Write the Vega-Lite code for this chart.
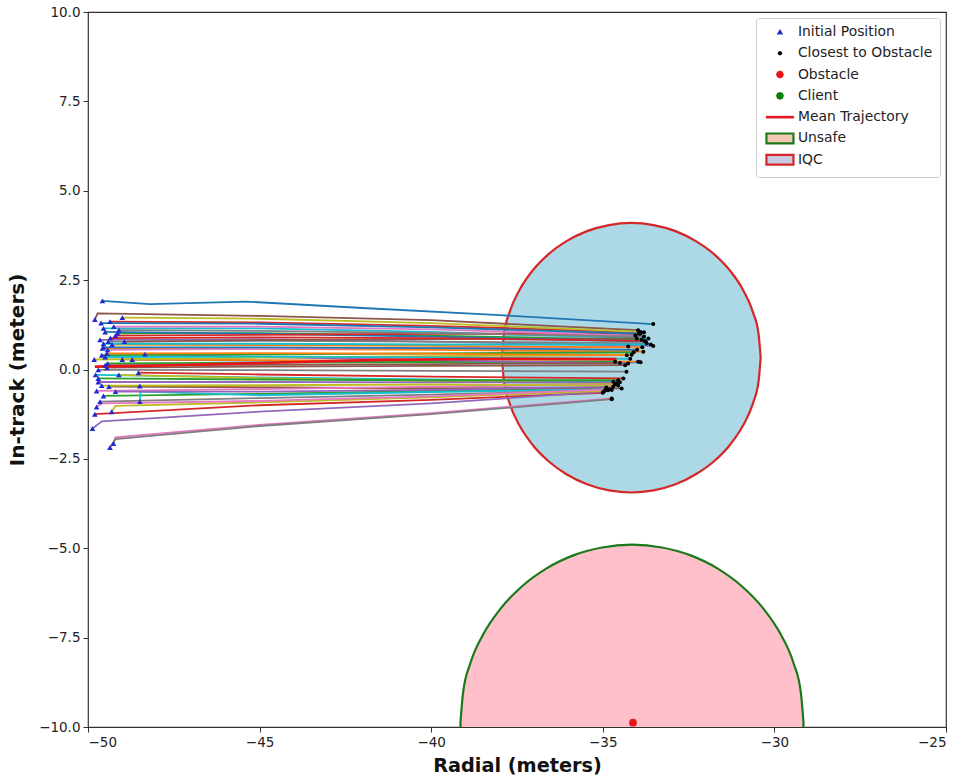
{
  "$schema": "https://vega.github.io/schema/vega-lite/v6.json",
  "width": 858,
  "height": 715,
  "autosize": "none",
  "padding": {"left": 88, "top": 12, "right": 17, "bottom": 52},
  "background": "white",
  "datasets": {
    "circles": [
      {"c":"IQC","x":-30.40,"y":0.33,"y2":0.33},
      {"c":"IQC","x":-30.46,"y":0.98,"y2":-0.32},
      {"c":"IQC","x":-30.63,"y":1.62,"y2":-0.96},
      {"c":"IQC","x":-30.91,"y":2.22,"y2":-1.56},
      {"c":"IQC","x":-31.28,"y":2.75,"y2":-2.09},
      {"c":"IQC","x":-31.75,"y":3.22,"y2":-2.56},
      {"c":"IQC","x":-32.29,"y":3.59,"y2":-2.93},
      {"c":"IQC","x":-32.88,"y":3.87,"y2":-3.21},
      {"c":"IQC","x":-33.52,"y":4.04,"y2":-3.38},
      {"c":"IQC","x":-34.17,"y":4.10,"y2":-3.44},
      {"c":"IQC","x":-34.82,"y":4.04,"y2":-3.38},
      {"c":"IQC","x":-35.46,"y":3.87,"y2":-3.21},
      {"c":"IQC","x":-36.06,"y":3.59,"y2":-2.93},
      {"c":"IQC","x":-36.59,"y":3.22,"y2":-2.56},
      {"c":"IQC","x":-37.06,"y":2.75,"y2":-2.09},
      {"c":"IQC","x":-37.43,"y":2.22,"y2":-1.56},
      {"c":"IQC","x":-37.71,"y":1.62,"y2":-0.96},
      {"c":"IQC","x":-37.88,"y":0.98,"y2":-0.32},
      {"c":"IQC","x":-37.94,"y":0.33,"y2":0.33},
      {"c":"Unsafe","x":-29.15,"y":-9.9,"y2":-9.9},
      {"c":"Unsafe","x":-29.23,"y":-9.03,"y2":-10.77},
      {"c":"Unsafe","x":-29.45,"y":-8.19,"y2":-11.61},
      {"c":"Unsafe","x":-29.82,"y":-7.40,"y2":-12.40},
      {"c":"Unsafe","x":-30.32,"y":-6.69,"y2":-13.11},
      {"c":"Unsafe","x":-30.94,"y":-6.07,"y2":-13.73},
      {"c":"Unsafe","x":-31.65,"y":-5.57,"y2":-14.23},
      {"c":"Unsafe","x":-32.44,"y":-5.20,"y2":-14.60},
      {"c":"Unsafe","x":-33.28,"y":-4.98,"y2":-14.82},
      {"c":"Unsafe","x":-34.15,"y":-4.90,"y2":-14.90},
      {"c":"Unsafe","x":-35.02,"y":-4.98,"y2":-14.82},
      {"c":"Unsafe","x":-35.86,"y":-5.20,"y2":-14.60},
      {"c":"Unsafe","x":-36.65,"y":-5.57,"y2":-14.23},
      {"c":"Unsafe","x":-37.36,"y":-6.07,"y2":-13.73},
      {"c":"Unsafe","x":-37.98,"y":-6.69,"y2":-13.11},
      {"c":"Unsafe","x":-38.48,"y":-7.40,"y2":-12.40},
      {"c":"Unsafe","x":-38.85,"y":-8.19,"y2":-11.61},
      {"c":"Unsafe","x":-39.07,"y":-9.03,"y2":-10.77},
      {"c":"Unsafe","x":-39.15,"y":-9.9,"y2":-9.9}
    ],
    "traj": [
      {"t":0,"s":0,"x":-49.58,"y":1.92},{"t":0,"s":1,"x":-48.2,"y":1.83},{"t":0,"s":2,"x":-45.4,"y":1.90},{"t":0,"s":3,"x":-42.0,"y":1.72},{"t":0,"s":4,"x":-38.0,"y":1.52},{"t":0,"s":5,"x":-33.53,"y":1.27},
      {"t":1,"s":0,"x":-49.58,"y":0.59},{"t":1,"s":1,"x":-45,"y":0.58},{"t":1,"s":2,"x":-40,"y":0.55},{"t":1,"s":3,"x":-33.82,"y":0.50},
      {"t":2,"s":0,"x":-49.14,"y":1.01},{"t":2,"s":1,"x":-45,"y":1.02},{"t":2,"s":2,"x":-40,"y":0.95},{"t":2,"s":3,"x":-33.87,"y":0.83},
      {"t":3,"s":0,"x":-49.36,"y":1.34},{"t":3,"s":1,"x":-45,"y":1.32},{"t":3,"s":2,"x":-40,"y":1.22},{"t":3,"s":3,"x":-33.80,"y":1.04},
      {"t":4,"s":0,"x":-49.65,"y":0.83},{"t":4,"s":1,"x":-45,"y":0.85},{"t":4,"s":2,"x":-40,"y":0.78},{"t":4,"s":3,"x":-33.53,"y":0.66},
      {"t":5,"s":0,"x":-49.80,"y":1.40},{"t":5,"s":1,"x":-49.72,"y":1.57},{"t":5,"s":2,"x":-45,"y":1.50},{"t":5,"s":3,"x":-40,"y":1.38},{"t":5,"s":4,"x":-33.97,"y":1.10},
      {"t":6,"s":0,"x":-49.43,"y":0.55},{"t":6,"s":1,"x":-45,"y":0.58},{"t":6,"s":2,"x":-40,"y":0.60},{"t":6,"s":3,"x":-34.26,"y":0.64},
      {"t":7,"s":0,"x":-49.41,"y":0.78},{"t":7,"s":1,"x":-45,"y":0.80},{"t":7,"s":2,"x":-40,"y":0.78},{"t":7,"s":3,"x":-33.72,"y":0.73},
      {"t":8,"s":0,"x":-49.0,"y":1.45},{"t":8,"s":1,"x":-45,"y":1.42},{"t":8,"s":2,"x":-40,"y":1.30},{"t":8,"s":3,"x":-33.9,"y":1.05},
      {"t":9,"s":0,"x":-49.55,"y":1.15},{"t":9,"s":1,"x":-45,"y":1.15},{"t":9,"s":2,"x":-40,"y":1.05},{"t":9,"s":3,"x":-33.67,"y":0.87},
      {"t":10,"s":0,"x":-48.71,"y":0.28},{"t":10,"s":1,"x":-45,"y":0.25},{"t":10,"s":2,"x":-40,"y":0.22},{"t":10,"s":3,"x":-33.9,"y":0.20},
      {"t":11,"s":0,"x":-49.0,"y":0.28},{"t":11,"s":1,"x":-45,"y":0.26},{"t":11,"s":2,"x":-40,"y":0.24},{"t":11,"s":3,"x":-33.97,"y":0.22},
      {"t":12,"s":0,"x":-49.43,"y":0.17},{"t":12,"s":1,"x":-45,"y":0.19},{"t":12,"s":2,"x":-40,"y":0.21},{"t":12,"s":3,"x":-34.64,"y":0.22},
      {"t":13,"s":0,"x":-48.53,"y":-0.09},{"t":13,"s":1,"x":-45,"y":-0.14},{"t":13,"s":2,"x":-40,"y":-0.20},{"t":13,"s":3,"x":-34.40,"y":-0.25},
      {"t":14,"s":0,"x":-48.34,"y":0.43},{"t":14,"s":1,"x":-45,"y":0.35},{"t":14,"s":2,"x":-40,"y":0.26},{"t":14,"s":3,"x":-34.26,"y":0.17},
      {"t":15,"s":0,"x":-48.94,"y":0.78},{"t":15,"s":1,"x":-45,"y":0.82},{"t":15,"s":2,"x":-40,"y":0.85},{"t":15,"s":3,"x":-34.01,"y":0.87},
      {"t":16,"s":0,"x":-49.26,"y":-2.07},{"t":16,"s":1,"x":-49.2,"y":-1.90},{"t":16,"s":2,"x":-45,"y":-1.55},{"t":16,"s":3,"x":-40,"y":-1.22},{"t":16,"s":4,"x":-34.74,"y":-0.81},
      {"t":17,"s":0,"x":-49.70,"y":-0.01},{"t":17,"s":1,"x":-45,"y":-0.02},{"t":17,"s":2,"x":-40,"y":-0.04},{"t":17,"s":3,"x":-34.31,"y":-0.06},
      {"t":18,"s":0,"x":-49.82,"y":0.28},{"t":18,"s":1,"x":-45,"y":0.33},{"t":18,"s":2,"x":-40,"y":0.37},{"t":18,"s":3,"x":-34.16,"y":0.41},
      {"t":19,"s":0,"x":-49.78,"y":-0.15},{"t":19,"s":1,"x":-45,"y":-0.22},{"t":19,"s":2,"x":-40,"y":-0.28},{"t":19,"s":3,"x":-34.69,"y":-0.34},
      {"t":20,"s":0,"x":-49.5,"y":1.05},{"t":20,"s":1,"x":-45,"y":1.00},{"t":20,"s":2,"x":-40,"y":0.92},{"t":20,"s":3,"x":-33.75,"y":0.78},
      {"t":21,"s":0,"x":-48.49,"y":-0.46},{"t":21,"s":1,"x":-45,"y":-0.50},{"t":21,"s":2,"x":-40,"y":-0.54},{"t":21,"s":3,"x":-34.74,"y":-0.57},
      {"t":22,"s":0,"x":-49.55,"y":-0.74},{"t":22,"s":1,"x":-45,"y":-0.68},{"t":22,"s":2,"x":-40,"y":-0.60},{"t":22,"s":3,"x":-34.90,"y":-0.50},
      {"t":23,"s":0,"x":-49.80,"y":-1.25},{"t":23,"s":1,"x":-45,"y":-1.00},{"t":23,"s":2,"x":-40,"y":-0.85},{"t":23,"s":3,"x":-35.0,"y":-0.65},
      {"t":24,"s":0,"x":-49.87,"y":-1.65},{"t":24,"s":1,"x":-49.6,"y":-1.45},{"t":24,"s":2,"x":-45,"y":-1.18},{"t":24,"s":3,"x":-40,"y":-0.95},{"t":24,"s":4,"x":-34.98,"y":-0.62},
      {"t":25,"s":0,"x":-49.39,"y":-0.48},{"t":25,"s":1,"x":-45,"y":-0.50},{"t":25,"s":2,"x":-40,"y":-0.52},{"t":25,"s":3,"x":-34.45,"y":-0.53},
      {"t":26,"s":0,"x":-49.75,"y":-0.60},{"t":26,"s":1,"x":-45,"y":-0.55},{"t":26,"s":2,"x":-40,"y":-0.48},{"t":26,"s":3,"x":-34.65,"y":-0.42},
      {"t":27,"s":0,"x":-49.36,"y":-2.18},{"t":27,"s":1,"x":-49.2,"y":-1.95},{"t":27,"s":2,"x":-45,"y":-1.58},{"t":27,"s":3,"x":-40,"y":-1.25},{"t":27,"s":4,"x":-34.74,"y":-0.83},
      {"t":28,"s":0,"x":-49.10,"y":-0.15},{"t":28,"s":1,"x":-45,"y":-0.24},{"t":28,"s":2,"x":-40,"y":-0.32},{"t":28,"s":3,"x":-34.60,"y":-0.39},
      {"t":29,"s":0,"x":-48.49,"y":-0.90},{"t":29,"s":1,"x":-48.47,"y":-0.62},{"t":29,"s":2,"x":-45,"y":-0.72},{"t":29,"s":3,"x":-40,"y":-0.63},{"t":29,"s":4,"x":-34.80,"y":-0.55},
      {"t":30,"s":0,"x":-49.55,"y":0.62},{"t":30,"s":1,"x":-45,"y":0.62},{"t":30,"s":2,"x":-40,"y":0.60},{"t":30,"s":3,"x":-34.0,"y":0.55},
      {"t":31,"s":0,"x":-49.3,"y":0.70},{"t":31,"s":1,"x":-45,"y":0.68},{"t":31,"s":2,"x":-40,"y":0.66},{"t":31,"s":3,"x":-33.85,"y":0.62},
      {"t":32,"s":0,"x":-49.6,"y":0.40},{"t":32,"s":1,"x":-45,"y":0.42},{"t":32,"s":2,"x":-40,"y":0.45},{"t":32,"s":3,"x":-34.1,"y":0.48},
      {"t":33,"s":0,"x":-49.2,"y":0.95},{"t":33,"s":1,"x":-45,"y":0.97},{"t":33,"s":2,"x":-40,"y":1.00},{"t":33,"s":3,"x":-33.95,"y":1.00},
      {"t":34,"s":0,"x":-49.7,"y":-0.35},{"t":34,"s":1,"x":-45,"y":-0.35},{"t":34,"s":2,"x":-40,"y":-0.36},{"t":34,"s":3,"x":-34.5,"y":-0.36},
      {"t":35,"s":0,"x":-49.45,"y":0.05},{"t":35,"s":1,"x":-45,"y":0.08},{"t":35,"s":2,"x":-40,"y":0.10},{"t":35,"s":3,"x":-34.35,"y":0.12},
      {"t":36,"s":0,"x":-49.25,"y":1.20},{"t":36,"s":1,"x":-45,"y":1.20},{"t":36,"s":2,"x":-40,"y":1.12},{"t":36,"s":3,"x":-34.05,"y":0.95},
      {"t":37,"s":0,"x":-49.65,"y":-0.90},{"t":37,"s":1,"x":-45,"y":-0.80},{"t":37,"s":2,"x":-40,"y":-0.70},{"t":37,"s":3,"x":-34.85,"y":-0.58},
      {"t":38,"s":0,"x":-49.31,"y":-1.18},{"t":38,"s":1,"x":-49.2,"y":-1.02},{"t":38,"s":2,"x":-45,"y":-0.92},{"t":38,"s":3,"x":-40,"y":-0.78},{"t":38,"s":4,"x":-34.95,"y":-0.60},
      {"t":39,"s":0,"x":-49.5,"y":0.35},{"t":39,"s":1,"x":-45,"y":0.36},{"t":39,"s":2,"x":-40,"y":0.34},{"t":39,"s":3,"x":-34.2,"y":0.30},
      {"t":40,"s":0,"x":-49.62,"y":1.30},{"t":40,"s":1,"x":-45,"y":1.28},{"t":40,"s":2,"x":-40,"y":1.18},{"t":40,"s":3,"x":-33.9,"y":1.00},
      {"t":41,"s":0,"x":-49.45,"y":0.45},{"t":41,"s":1,"x":-45,"y":0.46},{"t":41,"s":2,"x":-40,"y":0.44},{"t":41,"s":3,"x":-34.3,"y":0.40},
      {"t":42,"s":0,"x":-49.7,"y":-0.25},{"t":42,"s":1,"x":-45,"y":-0.28},{"t":42,"s":2,"x":-40,"y":-0.30},{"t":42,"s":3,"x":-34.55,"y":-0.30},
      {"t":43,"s":0,"x":-49.35,"y":0.88},{"t":43,"s":1,"x":-45,"y":0.90},{"t":43,"s":2,"x":-40,"y":0.88},{"t":43,"s":3,"x":-33.78,"y":0.80},
      {"t":44,"s":0,"x":-49.2,"y":-0.62},{"t":44,"s":1,"x":-45,"y":-0.62},{"t":44,"s":2,"x":-40,"y":-0.57},{"t":44,"s":3,"x":-34.7,"y":-0.48},
      {"t":45,"s":0,"x":-49.5,"y":0.12},{"t":45,"s":1,"x":-45,"y":0.13},{"t":45,"s":2,"x":-40,"y":0.15},{"t":45,"s":3,"x":-34.5,"y":0.18},
      {"t":46,"s":0,"x":-49.75,"y":-1.05},{"t":46,"s":1,"x":-49.6,"y":-0.95},{"t":46,"s":2,"x":-45,"y":-0.88},{"t":46,"s":3,"x":-40,"y":-0.75},{"t":46,"s":4,"x":-34.9,"y":-0.56},
      {"t":47,"s":0,"x":-49.1,"y":1.10},{"t":47,"s":1,"x":-45,"y":1.08},{"t":47,"s":2,"x":-40,"y":1.02},{"t":47,"s":3,"x":-33.8,"y":0.92},
      {"t":48,"s":0,"x":-49.6,"y":-0.45},{"t":48,"s":1,"x":-45,"y":-0.44},{"t":48,"s":2,"x":-40,"y":-0.42},{"t":48,"s":3,"x":-34.55,"y":-0.45},
      {"t":49,"s":0,"x":-49.55,"y":0.72},{"t":49,"s":1,"x":-45,"y":0.72},{"t":49,"s":2,"x":-40,"y":0.70},{"t":49,"s":3,"x":-33.6,"y":0.70}
    ],
    "mean": [
      {"x":-49.8,"y":0.08},{"x":-48.5,"y":0.10},{"x":-45,"y":0.18},{"x":-41.5,"y":0.27},{"x":-38,"y":0.30},{"x":-34.6,"y":0.29}
    ],
    "obstacle": [{"x":-34.12,"y":-9.88}]
  },
  "layer": [
    {
      "data": {"name": "circles"},
      "transform": [{"filter": "datum.c === 'Unsafe'"}],
      "mark": {"type": "area", "fill": "#ffc0cb", "stroke": "#1a7a1a", "strokeWidth": 2.2, "clip": true, "interpolate": "monotone"},
      "encoding": {
        "x": {"field": "x", "type": "quantitative", "scale": {"domain": [-50, -25], "nice": false, "zero": false},
              "axis": {"values": [-50, -45, -40, -35, -30, -25], "format": "d", "title": "Radial (meters)", "titlePadding": 8, "titleFontSize": 19.3}},
        "y": {"field": "y", "type": "quantitative", "scale": {"domain": [-10, 10], "nice": false, "zero": false},
              "axis": {"values": [-10, -7.5, -5, -2.5, 0, 2.5, 5, 7.5, 10], "format": ".1f", "title": "In-track (meters)", "titlePadding": 11, "titleFontSize": 20}},
        "y2": {"field": "y2"}
      }
    },
    {
      "data": {"name": "circles"},
      "transform": [{"filter": "datum.c === 'IQC'"}],
      "mark": {"type": "area", "fill": "#add8e6", "stroke": "#d62728", "strokeWidth": 2.2, "interpolate": "monotone"},
      "encoding": {
        "x": {"field": "x", "type": "quantitative"},
        "y": {"field": "y", "type": "quantitative"},
        "y2": {"field": "y2"}
      }
    },
    {
      "data": {"name": "traj"},
      "mark": {"type": "line", "strokeWidth": 1.8},
      "encoding": {
        "x": {"field": "x", "type": "quantitative"},
        "y": {"field": "y", "type": "quantitative"},
        "order": {"field": "s", "type": "quantitative"},
        "color": {"field": "t", "type": "ordinal", "legend": null,
                  "scale": {"range": ["#1f77b4", "#ff7f0e", "#2ca02c", "#d62728", "#9467bd", "#8c564b", "#e377c2", "#7f7f7f", "#bcbd22", "#17becf"]}}
      }
    },
    {
      "data": {"name": "mean"},
      "mark": {"type": "line", "strokeWidth": 2.6},
      "encoding": {
        "x": {"field": "x", "type": "quantitative"},
        "y": {"field": "y", "type": "quantitative"},
        "stroke": {"datum": "Mean Trajectory", "type": "nominal",
                  "scale": {"domain": ["Initial Position", "Closest to Obstacle", "Obstacle", "Client", "Mean Trajectory", "Unsafe", "IQC"],
                            "range": ["transparent", "transparent", "transparent", "transparent", "#e8141c", "#1a7a1a", "#d62728"]},
                  "legend": {
                    "title": null, "orient": "top-right", "offset": 6, "padding": 7,
                    "labelFontSize": 13.9, "labelColor": "#222", "labelFont": "DejaVu Sans",
                    "symbolSize": 324, "rowPadding": 1.3, "gridAlign": "all", "labelOffset": 11, "symbolOffset": 10,
                    "strokeColor": "#cccccc", "fillColor": "rgba(255,255,255,0.85)", "cornerRadius": 3,
                    "encode": {
                      "symbols": {
                        "update": {
                          "shape": {"signal": "datum.value === 'Initial Position' ? 'M0,-0.33L0.36,0.28L-0.36,0.28Z' : datum.value === 'Closest to Obstacle' ? 'M0.25,0L0.177,0.177L0,0.25L-0.177,0.177L-0.25,0L-0.177,-0.177L0,-0.25L0.177,-0.177Z' : datum.value === 'Mean Trajectory' ? 'M-1.55,0L1.55,0' : (datum.value === 'Unsafe' || datum.value === 'IQC') ? 'M-1.5,-0.55L1.5,-0.55L1.5,0.55L-1.5,0.55Z' : 'M0.44,0L0.311,0.311L0,0.44L-0.311,0.311L-0.44,0L-0.311,-0.311L0,-0.44L0.311,-0.311Z'"},
                          "size": {"value": 324},
                          "strokeWidth": {"signal": "datum.value === 'Mean Trajectory' ? 2.6 : (datum.value === 'Unsafe' || datum.value === 'IQC') ? 2.2 : 0"},
                          "opacity": {"value": 1},
                          "fillOpacity": {"value": 1},
                          "strokeOpacity": {"value": 1}
                        }
                      }
                    }
                  }}
      }
    },
    {
      "data": {"name": "traj"},
      "transform": [{"filter": "datum.s === 0"}],
      "mark": {"type": "point", "shape": "triangle-up", "filled": true, "size": 32, "opacity": 1, "strokeWidth": 0},
      "encoding": {
        "x": {"field": "x", "type": "quantitative"},
        "y": {"field": "y", "type": "quantitative"},
        "fill": {"datum": "Initial Position", "type": "nominal",
                 "scale": {"domain": ["Initial Position", "Closest to Obstacle", "Obstacle", "Client", "Mean Trajectory", "Unsafe", "IQC"],
                           "range": ["#1f2bd0", "black", "#e8141c", "#0a800a", "transparent", "#f2c9b5", "#c9cbe1"]},
                 "legend": {"title": null}}
      }
    },
    {
      "data": {"name": "traj"},
      "transform": [
        {"joinaggregate": [{"op": "max", "field": "s", "as": "smax"}], "groupby": ["t"]},
        {"filter": "datum.s === datum.smax"}
      ],
      "mark": {"type": "circle", "size": 16, "opacity": 1, "strokeWidth": 0},
      "encoding": {
        "x": {"field": "x", "type": "quantitative"},
        "y": {"field": "y", "type": "quantitative"},
        "fill": {"datum": "Closest to Obstacle", "type": "nominal",
                 "scale": {"domain": ["Initial Position", "Closest to Obstacle", "Obstacle", "Client", "Mean Trajectory", "Unsafe", "IQC"],
                           "range": ["#1f2bd0", "black", "#e8141c", "#0a800a", "transparent", "#f2c9b5", "#c9cbe1"]},
                 "legend": {"title": null}}
      }
    },
    {
      "data": {"name": "obstacle"},
      "mark": {"type": "circle", "size": 60, "opacity": 1, "strokeWidth": 0},
      "encoding": {
        "x": {"field": "x", "type": "quantitative"},
        "y": {"field": "y", "type": "quantitative"},
        "fill": {"datum": "Obstacle", "type": "nominal",
                 "scale": {"domain": ["Initial Position", "Closest to Obstacle", "Obstacle", "Client", "Mean Trajectory", "Unsafe", "IQC"],
                           "range": ["#1f2bd0", "black", "#e8141c", "#0a800a", "transparent", "#f2c9b5", "#c9cbe1"]},
                 "legend": {"title": null}}
      }
    }
  ],
  "config": {
    "font": "DejaVu Sans",
    "view": {"stroke": "#333333", "strokeWidth": 1.2},
    "axis": {
      "grid": false, "domain": false, "tickColor": "#333333", "tickSize": 5, "tickWidth": 1,
      "labelFontSize": 13.5, "labelColor": "#222222", "labelFont": "DejaVu Sans", "labelPadding": 3,
      "titleFont": "DejaVu Sans", "titleFontWeight": "bold", "titleColor": "#111111"
    }
  }
}
